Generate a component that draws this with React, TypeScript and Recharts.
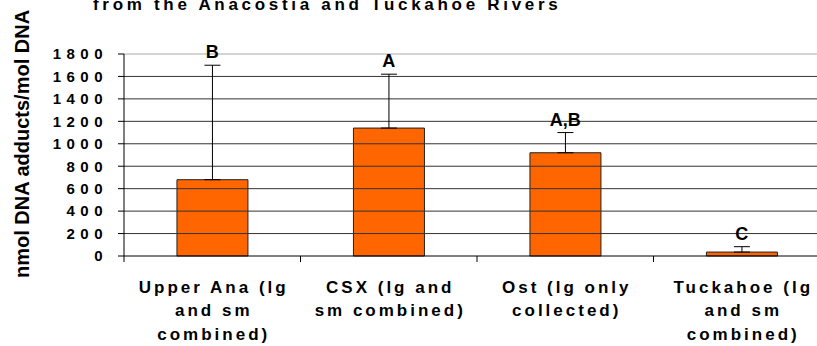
import {
  ComposedChart,
  Bar,
  Line,
  XAxis,
  YAxis,
  ErrorBar,
  LabelList,
  ReferenceLine,
} from "recharts";

const FONT = "Arial, 'Liberation Sans', sans-serif";

const categories = [
  "Upper Ana (lg and sm combined)",
  "CSX (lg and sm combined)",
  "Ost (lg only collected)",
  "Tuckahoe (lg and sm combined)",
];
const tickLines = [
  ["Upper Ana (lg", "and sm", "combined)"],
  ["CSX (lg and", "sm combined)"],
  ["Ost (lg only", "collected)"],
  ["Tuckahoe (lg", "and sm", "combined)"],
];
const adducts = [680, 1140, 920, 35];
const upperErrors = [1020, 480, 180, 48];
const letters = ["B", "A", "A,B", "C"];
const yTicks = [0, 200, 400, 600, 800, 1000, 1200, 1400, 1600, 1800];

const chartData = categories.map((category, i) => ({
  category,
  value: adducts[i],
  err: [0, upperErrors[i]],
  top: adducts[i] + upperErrors[i],
  letter: letters[i],
}));

// excel-style category axis: tick marks sit on the band edges, not centres
function CategoryTick({ x, y, payload }: any) {
  const idx = categories.indexOf(payload.value);
  const lines = idx >= 0 ? tickLines[idx] : [String(payload.value)];
  const half = Number(payload.offset) || 0;
  return (
    <g>
      {half > 0 && (
        <line x1={x - half} x2={x - half} y1={y} y2={y + 6} stroke="#000" />
      )}
      <text
        x={x}
        y={y + 37}
        textAnchor="middle"
        fontSize={17}
        fontWeight="bold"
        fontFamily={FONT}
        letterSpacing={3}
        fill="#000"
      >
        {lines.map((line, i) => (
          <tspan key={i} x={x + 1.5} dy={i === 0 ? 0 : 23.3}>
            {line}
          </tspan>
        ))}
      </text>
    </g>
  );
}

export default function App() {
  return (
    <div
      style={{
        position: "absolute",
        left: 0,
        top: 0,
        width: 817,
        height: 346,
        overflow: "hidden",
        background: "#fff",
        fontFamily: FONT,
      }}
    >
      <div
        style={{
          position: "absolute",
          left: 93,
          top: -4,
          fontSize: 17,
          lineHeight: "17px",
          fontWeight: "bold",
          letterSpacing: 3.7,
          whiteSpace: "nowrap",
          color: "#000",
        }}
      >
        from the Anacostia and Tuckahoe Rivers
      </div>
      <div
        style={{
          position: "absolute",
          left: 22.4,
          top: 143.5,
          transform: "translate(-50%, -50%) rotate(-90deg)",
          fontSize: 20,
          lineHeight: "20px",
          fontWeight: "bold",
          whiteSpace: "nowrap",
          color: "#000",
        }}
      >
        nmol DNA adducts/mol DNA
      </div>
      <div style={{ position: "absolute", left: 0, top: 0 }}>
        <ComposedChart
          width={830}
          height={346}
          data={chartData}
          margin={{ top: 54, right: 0, bottom: 0, left: 0 }}
          barCategoryGap="30%"
        >
          <XAxis
            dataKey="category"
            height={90}
            interval={0}
            tickLine={false}
            tickSize={0}
            tickMargin={0}
            axisLine={{ stroke: "#000" }}
            tick={<CategoryTick />}
          />
          <YAxis
            width={124}
            domain={[0, 1800]}
            ticks={yTicks}
            interval={0}
            tickSize={6}
            tickMargin={10}
            axisLine={{ stroke: "#000" }}
            tickLine={{ stroke: "#000" }}
            tick={{
              fontSize: 15,
              fontWeight: 700,
              fill: "#000",
              letterSpacing: 5.5,
              fontFamily: FONT,
            }}
          />
          {yTicks.slice(1).map((v) => (
            <ReferenceLine
              key={v}
              y={v}
              stroke={v === 1800 ? "#aaa" : "#333"}
              strokeWidth={1}
            />
          ))}
          <Bar
            dataKey="value"
            fill="#FF6600"
            stroke="#222"
            strokeWidth={1}
            isAnimationActive={false}
          >
            <ErrorBar
              dataKey="err"
              direction="y"
              width={8}
              stroke="#000"
              strokeWidth={1}
              isAnimationActive={false}
            />
          </Bar>
          <Line
            dataKey="top"
            stroke="none"
            dot={false}
            activeDot={false}
            isAnimationActive={false}
          >
            <LabelList
              dataKey="letter"
              position="top"
              offset={7}
              fill="#000"
              fontSize={18}
              fontWeight="bold"
              fontFamily={FONT}
            />
          </Line>
        </ComposedChart>
      </div>
    </div>
  );
}
